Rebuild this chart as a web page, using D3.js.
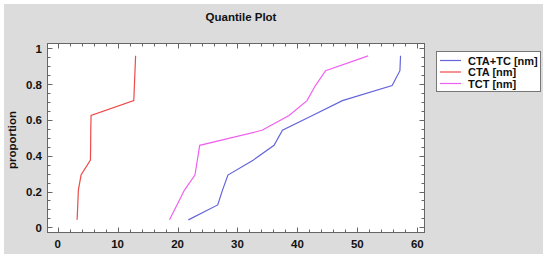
<!DOCTYPE html>
<html>
<head>
<meta charset="utf-8">
<script src="https://cdn.jsdelivr.net/npm/d3@7"></script>
<style>
  body { margin: 0; background: #fff; }
  text { font-family: "Liberation Sans", Arial, sans-serif; font-weight: bold; fill: #111; }
</style>
</head>
<body>
<div id="chart"></div>
<script>
// data (12 sorted values per series)
var proportions = [0.0417, 0.125, 0.208, 0.292, 0.375, 0.458, 0.542, 0.625, 0.708, 0.792, 0.875, 0.958];
var ctaTc = [21.8, 26.7, 27.5, 28.4, 32.6, 36.1, 37.5, 42.5, 47.5, 55.8, 57.1, 57.2];
var cta = [3.24, 3.35, 3.45, 3.9, 5.46, 5.5, 5.52, 5.57, 12.7, 12.8, 12.9, 13.0];
var tct = [18.65, 19.9, 21.15, 22.9, 23.3, 23.7, 34.1, 38.6, 41.6, 43.0, 44.7, 51.8];
var seriesNames = ["CTA+TC [nm]", "CTA [nm]", "TCT [nm]"];
var xTicks = [0, 10, 20, 30, 40, 50, 60];
var yTicks = [0, 0.2, 0.4, 0.6, 0.8, 1];

var width = 550, height = 260;
var colors = ["#6464dc", "#ee4a4a", "#f060f0"];
var plot = { left: 47.5, right: 424.5, top: 43.5, bottom: 232.5 };

var svg = d3.select("#chart").append("svg")
  .attr("width", width)
  .attr("height", height);

// gray panel
svg.append("rect")
  .attr("x", 4).attr("y", 4)
  .attr("width", 539).attr("height", 250)
  .attr("fill", "#dcdcdc");

var x = d3.scaleLinear().domain([-1.7, 61.2]).range([plot.left, plot.right]);
var y = d3.scaleLinear().domain([-0.029, 1.027]).range([plot.bottom, plot.top]);

svg.append("rect")
  .attr("x", plot.left).attr("y", plot.top)
  .attr("width", plot.right - plot.left)
  .attr("height", plot.bottom - plot.top)
  .attr("fill", "#fff")
  .attr("stroke", "#666")
  .attr("stroke-width", 1);

// ticks pointing inward on all four sides
var xMinor = d3.range(0, 61, 2);
var yMinor = d3.range(0, 1.001, 0.05);
var tickG = svg.append("g").attr("stroke", "#666").attr("stroke-width", 1);

function isMajorX(v) { return Math.abs(v % 10) < 1e-6; }
function isMajorY(v) { return Math.abs(Math.round(v * 5) - v * 5) < 1e-6; }

xMinor.forEach(function(v) {
  var len = isMajorX(v) ? 5 : 3;
  var px = Math.round(x(v)) + 0.5;
  tickG.append("line").attr("x1", px).attr("x2", px)
    .attr("y1", plot.bottom).attr("y2", plot.bottom - len);
  tickG.append("line").attr("x1", px).attr("x2", px)
    .attr("y1", plot.top).attr("y2", plot.top + len);
});
yMinor.forEach(function(v) {
  var len = isMajorY(v) ? 5 : 3;
  var py = Math.round(y(v)) + 0.5;
  tickG.append("line").attr("y1", py).attr("y2", py)
    .attr("x1", plot.left).attr("x2", plot.left + len);
  tickG.append("line").attr("y1", py).attr("y2", py)
    .attr("x1", plot.right).attr("x2", plot.right - len);
});

// tick labels
svg.selectAll(".xl").data(xTicks).enter().append("text")
  .attr("x", d => x(d))
  .attr("y", 247.5)
  .attr("text-anchor", "middle")
  .attr("font-size", 11.5)
  .text(d => d);

svg.selectAll(".yl").data(yTicks).enter().append("text")
  .attr("x", 42)
  .attr("y", d => y(d) + 4.5)
  .attr("text-anchor", "end")
  .attr("font-size", 11.5)
  .text(d => d);

// title and axis label
svg.append("text")
  .attr("x", 241).attr("y", 21)
  .attr("text-anchor", "middle")
  .attr("font-size", 11.5)
  .text("Quantile Plot");

svg.append("text")
  .attr("transform", "translate(16,140) rotate(-90)")
  .attr("text-anchor", "middle")
  .attr("font-size", 11.5)
  .text("proportion");

// lines
var line = d3.line()
  .x(d => x(d[0]))
  .y(d => y(d[1]));

[ctaTc, cta, tct].forEach(function(vals, i) {
  var pts = vals.map((v, j) => [v, proportions[j]]);
  svg.append("path")
    .datum(pts)
    .attr("d", line)
    .attr("fill", "none")
    .attr("stroke", colors[i])
    .attr("stroke-width", 1.2);
});

// legend
var legend = svg.append("g");
legend.append("rect")
  .attr("x", 436.5).attr("y", 51.5)
  .attr("width", 104).attr("height", 40)
  .attr("fill", "#fff")
  .attr("stroke", "#777");

seriesNames.forEach(function(name, i) {
  var ly = 60.5 + i * 11.5;
  legend.append("line")
    .attr("x1", 440).attr("x2", 461)
    .attr("y1", ly).attr("y2", ly)
    .attr("stroke", colors[i])
    .attr("stroke-width", 1.2);
  legend.append("text")
    .attr("x", 468).attr("y", ly + 4)
    .attr("font-size", 11)
    .text(name);
});
</script>
</body>
</html>
